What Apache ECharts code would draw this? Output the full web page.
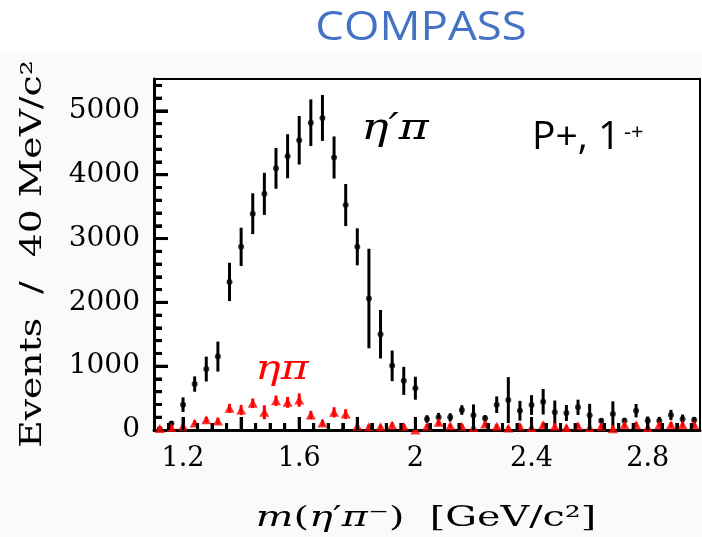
<!DOCTYPE html>
<html><head><meta charset="utf-8">
<script src="https://cdn.jsdelivr.net/npm/echarts@6/dist/echarts.min.js"></script>
<style>html,body{margin:0;padding:0;background:#fafafa}#c{width:702px;height:537px}</style>
</head><body><div id="c"></div>
<script>
// bin centres, m(eta' pi-) [GeV/c^2]
const massCenters = [1.12,1.16,1.20,1.24,1.28,1.32,1.36,1.40,1.44,1.48,1.52,1.56,1.60,1.64,1.68,1.72,1.76,1.80,1.84,1.88,1.92,1.96,2.00,2.04,2.08,2.12,2.16,2.20,2.24,2.28,2.32,2.36,2.40,2.44,2.48,2.52,2.56,2.60,2.64,2.68,2.72,2.76,2.80,2.84,2.88,2.92,2.96];
// eta' pi (black)
const etaPrimePi    = [15,100,396,720,955,1150,2320,2870,3390,3700,4100,4290,4540,4815,4890,4270,3525,2870,2060,1500,1005,770,655,172,198,198,313,230,183,396,469,302,391,443,277,266,355,230,146,250,146,302,146,146,235,172,156];
const etaPrimePiErr = [15,40,115,120,195,235,300,300,320,330,320,345,380,365,360,330,330,290,780,380,240,220,180,60,70,65,75,170,50,130,360,155,155,200,185,125,120,180,40,200,45,105,65,60,80,70,50];
// eta pi (red)
const etaPi    = [25,40,58,110,160,140,340,313,418,277,459,433,469,235,110,277,250,58,50,50,78,58,0,58,120,67,58,40,94,58,30,58,40,83,58,40,67,40,58,20,83,83,40,83,83,83,83];
const etaPiErr = [20,25,30,40,45,50,70,80,75,110,80,85,105,65,50,80,75,40,35,35,40,35,30,35,50,35,35,35,40,35,35,35,35,40,35,35,35,35,35,35,40,40,35,40,40,40,40];

const xTickLabels = [1.2,1.6,2.0,2.4,2.8];
const xMajorTicks = [1.2,1.4,1.6,1.8,2.0,2.2,2.4,2.6,2.8];
const xMinorTicks = [1.15,1.25,1.3,1.35,1.45,1.5,1.55,1.65,1.7,1.75,1.85,1.9,1.95,2.05,2.1,2.15,2.25,2.3,2.35,2.45,2.5,2.55,2.65,2.7,2.75,2.85,2.9,2.95];
const yTickLabels = [0,1000,2000,3000,4000,5000];
const yMajorTicks = [1000,2000,3000,4000,5000];
const yMinorTicks = [200,400,600,800,1200,1400,1600,1800,2200,2400,2600,2800,3200,3400,3600,3800,4200,4400,4600,4800,5200,5400];

const X_MIN = 1.1, X_MAX = 2.98, Y_MIN = 0, Y_MAX = 5500;

const chart = echarts.init(document.getElementById('c'));

function errRender(color) {
  return function (params, api) {
    const x = api.value(0), y = api.value(1), e = api.value(2);
    const p1 = api.coord([x, y - e]);
    const p2 = api.coord([x, y + e]);
    return {type: 'line', shape: {x1: p1[0], y1: p1[1], x2: p2[0], y2: p2[1]},
            style: {stroke: color, lineWidth: 3}};
  };
}

const serif = 'DejaVu Serif';
const tickStyle = {color: '#000', width: 3};

const textGraphics = [
  {type: 'rect', shape: {x: 0, y: 0, width: 702, height: 52}, style: {fill: '#fff'}, z: -10},
  {type: 'text', x: 421, y: 29, scaleX: 1.14,
   style: {text: 'COMPASS', fontFamily: 'Open Sans', fontSize: 40, fill: '#4472c4', align: 'center', verticalAlign: 'middle'}},
  {type: 'text', x: 532, y: 138,
   style: {text: 'P+, 1', fontFamily: 'Open Sans', fontSize: 39, fill: '#000', align: 'left', verticalAlign: 'middle'}},
  {type: 'text', x: 624, y: 133,
   style: {text: '-+', fontFamily: 'Open Sans', fontSize: 22, fill: '#000', align: 'left', verticalAlign: 'middle'}},
  {type: 'text', x: 395, y: 129, scaleX: 1.2,
   style: {text: 'η′π', fontFamily: serif, fontStyle: 'italic', fontSize: 38, fill: '#000', align: 'center', verticalAlign: 'middle'}},
  {type: 'text', x: 282, y: 370, scaleX: 1.25,
   style: {text: 'ηπ', fontFamily: serif, fontStyle: 'italic', fontSize: 34, fill: '#ff0000', align: 'center', verticalAlign: 'middle'}},
  {type: 'text', x: 33, y: 254, rotation: Math.PI / 2, scaleX: 1.3,
   style: {text: 'Events  /  40 MeV/c²', fontFamily: serif, fontSize: 29, fill: '#000', align: 'center', verticalAlign: 'middle'}},
  {type: 'text', x: 426, y: 519, scaleX: 1.42,
   style: {
     text: '{i|m}{r|(}{i|η}{r|′}{i|π}{r|⁻)  [GeV/c²]}',
     align: 'center', verticalAlign: 'middle', fontFamily: serif, fontSize: 28, fill: '#000',
     rich: {
       i: {fontFamily: serif, fontSize: 28, fontStyle: 'italic', fill: '#000'},
       r: {fontFamily: serif, fontSize: 28, fill: '#000'}
     }
   }}
];

chart.setOption({
  animation: false,
  backgroundColor: '#fafafa',
  grid: {left: 154, right: 2, top: 79, bottom: 107, show: true, borderColor: '#000', borderWidth: 2, backgroundColor: '#fff'},
  xAxis: [{
    type: 'value', min: X_MIN, max: X_MAX, position: 'bottom',
    axisLine: {show: true, lineStyle: {color: '#000', width: 3}},
    axisTick: {show: true, inside: true, length: 13, customValues: xMajorTicks, lineStyle: tickStyle},
    splitLine: {show: false},
    axisLabel: {
      color: '#000', fontFamily: serif, fontSize: 27, margin: 15,
      customValues: xTickLabels,
      formatter: v => String(+(+v).toFixed(1))
    }
  }, {
    type: 'value', min: X_MIN, max: X_MAX, position: 'bottom',
    axisLine: {show: false},
    axisTick: {show: true, inside: true, length: 7, customValues: xMinorTicks, lineStyle: tickStyle},
    splitLine: {show: false}, axisLabel: {show: false}
  }],
  yAxis: [{
    type: 'value', min: Y_MIN, max: Y_MAX, position: 'left',
    axisLine: {show: true, lineStyle: {color: '#000', width: 3}},
    axisTick: {show: true, inside: true, length: 14, customValues: yMajorTicks, lineStyle: tickStyle},
    splitLine: {show: false},
    axisLabel: {
      color: '#000', fontFamily: serif, fontSize: 28, margin: 14,
      customValues: yTickLabels,
      formatter: v => String(v)
    }
  }, {
    type: 'value', min: Y_MIN, max: Y_MAX, position: 'left',
    axisLine: {show: false},
    axisTick: {show: true, inside: true, length: 8, customValues: yMinorTicks, lineStyle: tickStyle},
    splitLine: {show: false}, axisLabel: {show: false}
  }],
  series: [
    {type: 'custom', name: "η′π errors", renderItem: errRender('#000'), encode: {x: 0, y: 1},
     data: massCenters.map((m, i) => [m, etaPrimePi[i], etaPrimePiErr[i]]), z: 2, clip: false},
    {type: 'scatter', name: "η′π", symbol: 'circle', symbolSize: 6, itemStyle: {color: '#000'},
     data: massCenters.map((m, i) => [m, etaPrimePi[i]]), z: 3},
    {type: 'custom', name: 'ηπ errors', renderItem: errRender('#ff0000'), encode: {x: 0, y: 1},
     data: massCenters.map((m, i) => [m, etaPi[i], etaPiErr[i]]), z: 4, clip: false},
    {type: 'scatter', name: 'ηπ', symbol: 'triangle', symbolSize: [10, 9], itemStyle: {color: '#ff0000'},
     data: massCenters.map((m, i) => [m, etaPi[i]]), z: 5}
  ],
  graphic: textGraphics
});

// inward tick marks, positioned through the chart's own axis scales
function tickLine(v, isX, len) {
  const p = chart.convertToPixel({xAxisIndex: 0, yAxisIndex: 0}, isX ? [v, Y_MIN] : [X_MIN, v]);
  if (!p || !isFinite(p[0]) || !isFinite(p[1])) return null;
  const shape = isX
    ? {x1: p[0], y1: p[1], x2: p[0], y2: p[1] - len}
    : {x1: p[0], y1: p[1], x2: p[0] + len, y2: p[1]};
  return {type: 'line', shape: shape, style: {stroke: '#000', lineWidth: 3}, z: 100};
}
const tickGraphics = [].concat(
  xMajorTicks.map(v => tickLine(v, true, 13)),
  xMinorTicks.map(v => tickLine(v, true, 7)),
  yMajorTicks.map(v => tickLine(v, false, 14)),
  yMinorTicks.map(v => tickLine(v, false, 8))
).filter(Boolean);
chart.setOption({graphic: textGraphics.concat(tickGraphics)});
</script>
</body></html>
